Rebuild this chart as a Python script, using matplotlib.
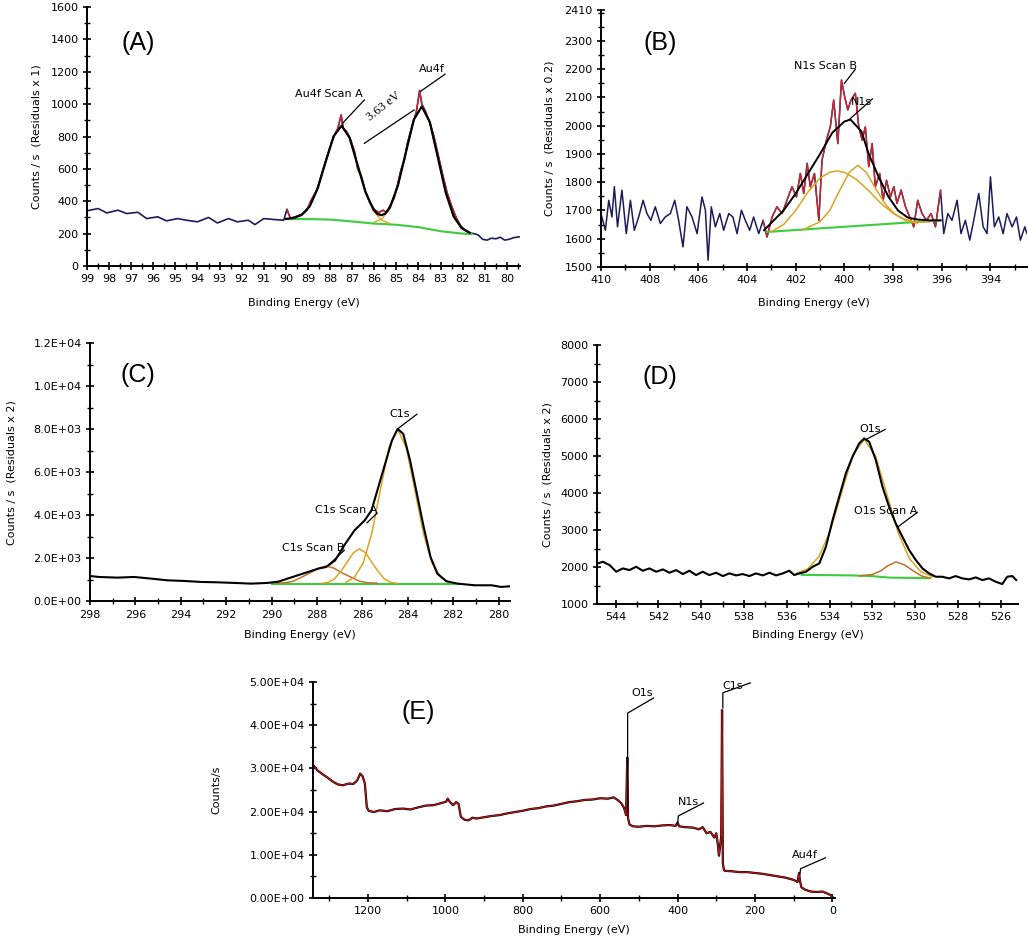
import numpy as np
import matplotlib
matplotlib.use("Agg")
import matplotlib.pyplot as plt
from matplotlib.ticker import MultipleLocator, FixedLocator, FormatStrFormatter

plt.rcParams['font.family'] = ['DejaVu Sans']

NAVY = '#1c1c5c'
RED = '#c8282d'
ORANGE = '#d9a520'
BROWN = '#c0702a'
GREEN = '#3ccc3c'

# ---------------- (A) Au4f ----------------
a_be = [99.0, 98.5, 98.1, 97.6, 97.2, 96.7, 96.3, 95.8, 95.4, 94.9, 94.5, 94.0, 93.5, 93.1,
        92.6, 92.2, 91.7, 91.4, 91.0, 90.5, 90.1, 89.95, 89.8, 89.55, 89.3, 89.05, 88.86,
        88.6, 88.4, 88.2, 88.0, 87.8, 87.65, 87.5, 87.4, 87.25, 87.1, 86.9, 86.75, 86.6,
        86.4, 86.2, 86.0, 85.8, 85.6, 85.45, 85.3, 85.1, 84.95, 84.8, 84.65, 84.5, 84.3,
        84.1, 83.95, 83.85, 83.7, 83.5, 83.3, 83.1, 82.9, 82.7, 82.5, 82.3, 82.1, 81.9,
        81.7, 81.5, 81.3, 81.1, 80.9, 80.7, 80.5, 80.3, 80.1, 79.9, 79.7, 79.45]
a_cnt = [341, 355, 328, 345, 324, 332, 293, 304, 279, 293, 283, 273, 300, 266,
         293, 273, 283, 256, 293, 287, 283, 350, 295, 305, 318, 345, 405,
         470, 560, 650, 735, 810, 850, 933, 850, 830, 790, 710, 600, 560,
         460, 390, 350, 330, 345, 330, 370, 420, 500, 590, 650, 760, 860,
         950, 1084, 1000, 960, 890, 800, 680, 560, 450, 370, 300, 250, 222,
         205, 200, 192, 165, 160, 172, 168, 178, 160, 165, 175, 180]
a_env_be = [90.0, 89.64, 89.28, 88.92, 88.56, 88.2, 87.84, 87.48, 87.12, 86.76, 86.4, 86.04,
            85.86, 85.68, 85.5, 85.29, 84.93, 84.57, 84.21, 83.85, 83.49, 83.13, 82.77,
            82.41, 82.05, 81.69]
a_env = [291, 297, 316, 369, 480, 644, 802, 867, 793, 626, 458, 349,
         322, 314, 324, 362, 498, 702, 905, 986, 890, 674, 455,
         306, 234, 206]
a_c1_be = [86.01, 85.65, 85.29, 84.93, 84.57, 84.21, 83.85, 83.49, 83.13, 82.77, 82.41, 82.05, 81.69]
a_c1 = [270, 291, 357, 497, 702, 905, 986, 890, 674, 455, 306, 234, 206]
a_c2_be = [89.64, 89.28, 88.92, 88.56, 88.2, 87.84, 87.48, 87.12, 86.76, 86.4, 86.04, 85.68, 85.32]
a_c2 = [297, 316, 369, 480, 644, 802, 867, 793, 626, 457, 342, 284, 263]
a_bg_be = [90.0, 89.0, 88.0, 87.0, 86.0, 85.0, 84.0, 83.0, 82.0, 81.6]
a_bg = [290, 290, 287, 275, 262, 255, 240, 215, 200, 198]

# ---------------- (B) N1s ----------------
b_be = [410.0, 409.82, 409.68, 409.55, 409.45, 409.32, 409.14, 408.96, 408.79, 408.63, 408.45,
        408.27, 408.11, 407.95, 407.77, 407.56, 407.36, 407.15, 406.97, 406.81, 406.63, 406.47,
        406.26, 406.05, 405.85, 405.71, 405.6, 405.47, 405.3, 405.12, 404.96, 404.75, 404.58,
        404.41, 404.23, 404.07, 403.89, 403.73, 403.52, 403.34, 403.18, 402.97, 402.77, 402.56,
        402.36, 402.15, 401.97, 401.81, 401.67, 401.53, 401.4, 401.23, 401.05, 400.92, 400.74,
        400.58, 400.44, 400.27, 400.12, 399.99, 399.86, 399.73, 399.55, 399.41, 399.27, 399.14,
        399.0, 398.86, 398.73, 398.55, 398.41, 398.27, 398.11, 397.97, 397.84, 397.67, 397.49,
        397.32, 397.15, 396.99, 396.81, 396.63, 396.44, 396.26, 396.05, 395.92, 395.75, 395.58,
        395.37, 395.21, 395.03, 394.85, 394.66, 394.48, 394.3, 394.14, 394.0, 393.84, 393.66,
        393.48, 393.32, 393.11, 392.93, 392.77, 392.59, 392.5]
b_cnt = [1689, 1630, 1736, 1677, 1784, 1642, 1772, 1618, 1736, 1630, 1677,
         1736, 1689, 1665, 1713, 1654, 1677, 1689, 1736, 1665, 1571, 1713,
         1677, 1618, 1748, 1701, 1524, 1713, 1642, 1689, 1630, 1689, 1677,
         1618, 1701, 1665, 1630, 1677, 1618, 1665, 1606, 1677, 1713, 1689,
         1736, 1784, 1748, 1831, 1760, 1867, 1784, 1831, 1665, 1878, 1949,
         1996, 2091, 1937, 2162, 2103, 2056, 2091, 2115, 1996, 1949, 1996,
         1855, 1937, 1784, 1831, 1736, 1807, 1748, 1784, 1725, 1772, 1713,
         1677, 1642, 1736, 1689, 1665, 1689, 1642, 1772, 1618, 1689, 1665,
         1736, 1618, 1665, 1595, 1677, 1760, 1642, 1618, 1819, 1642, 1677,
         1618, 1689, 1642, 1677, 1595, 1642, 1618]
b_env_be = [403.3, 402.5, 402.0, 401.5, 401.0, 400.5, 400.0, 399.75, 399.3, 399.0, 398.6,
            398.2, 397.8, 397.4, 397.0, 396.5, 396.05]
b_env = [1630, 1700, 1760, 1830, 1900, 1975, 2015, 2022, 1980, 1900, 1820,
         1750, 1700, 1675, 1668, 1665, 1665]
b_c1_be = [403.0, 402.5, 402.0, 401.5, 401.0, 400.6, 400.3, 400.0, 399.5, 399.0, 398.5,
           398.0, 397.5, 397.0, 396.5]
b_c1 = [1625, 1650, 1700, 1765, 1815, 1835, 1840, 1835, 1810, 1770, 1725,
        1690, 1668, 1658, 1660]
b_c2_be = [401.7, 401.5, 401.0, 400.6, 400.2, 399.8, 399.45, 399.1, 398.7, 398.3, 397.9, 397.5, 397.0]
b_c2 = [1632, 1640, 1660, 1700, 1770, 1835, 1860, 1835, 1775, 1720, 1685, 1665, 1655]
b_bg_be = [403.18, 396.05]
b_bg = [1624, 1665]

# ---------------- (C) C1s ----------------
c_be = [298.0, 297.6, 296.8, 296.05, 295.3, 294.6, 293.85, 293.1, 292.4, 291.6, 290.9, 290.2,
        289.7, 289.3, 288.85, 288.4, 287.95, 287.6, 287.2, 286.8, 286.35, 285.9, 285.6, 285.3,
        285.0, 284.7, 284.45, 284.2, 283.9, 283.6, 283.3, 283.0, 282.7, 282.3, 281.8, 281.05,
        280.3, 279.9, 279.5]
c_cnt = [1176, 1130, 1099, 1130, 1053, 975, 944, 898, 882, 851, 820, 851,
         913, 1053, 1207, 1362, 1517, 1594, 1904, 2600, 3297, 3762, 4226, 5310,
         6393, 7477, 8019, 7786, 6548, 5000, 3452, 2059, 1285, 929, 820, 743,
         743, 666, 697]
c_c1_be = [286.73, 286.35, 285.97, 285.59, 285.21, 284.83, 284.45, 284.07, 283.69, 283.31,
           282.93, 282.55, 282.17]
c_c1 = [880, 1116, 1774, 3140, 5170, 7154, 8000, 7154, 5170, 3140, 1774, 1116, 880]
c_c2_be = [287.78, 287.5, 287.23, 286.95, 286.68, 286.4, 286.13, 285.86, 285.58, 285.31,
           285.03, 284.76, 284.48]
c_c2 = [838, 880, 1039, 1390, 1803, 2250, 2440, 2250, 1803, 1390, 1039, 880, 838]
c_c3_be = [289.8, 289.4, 289.05, 288.68, 288.3, 287.93, 287.6, 287.25, 286.9, 286.5, 286.12,
           285.75, 285.35]
c_c3 = [838, 860, 930, 1120, 1320, 1540, 1640, 1540, 1320, 1120, 930, 860, 838]
c_bg_be = [290.0, 281.7]
c_bg = [820, 820]

# ---------------- (D) O1s ----------------
d_be = [544.82, 544.6, 544.28, 543.97, 543.66, 543.35, 543.04, 542.73, 542.42, 542.1, 541.79,
        541.48, 541.17, 540.86, 540.55, 540.24, 539.93, 539.62, 539.3, 538.99, 538.68, 538.37,
        538.06, 537.75, 537.44, 537.12, 536.81, 536.5, 536.19, 535.88, 535.65, 535.41, 535.1,
        534.79, 534.48, 534.17, 533.86, 533.55, 533.24, 532.93, 532.62, 532.38, 532.15, 531.84,
        531.53, 531.22, 530.91, 530.6, 530.28, 529.97, 529.66, 529.35, 529.04, 528.73, 528.42,
        528.11, 527.8, 527.48, 527.17, 526.86, 526.55, 526.24, 525.93, 525.7, 525.46, 525.28]
d_cnt = [2099, 2144, 2054, 1874, 1964, 1919, 2009, 1901, 1964, 1874, 1937,
         1847, 1919, 1811, 1901, 1784, 1874, 1784, 1847, 1757, 1829, 1775,
         1811, 1757, 1829, 1775, 1847, 1775, 1829, 1901, 1784, 1829, 1874,
         2009, 2099, 2550, 3270, 3901, 4532, 4982, 5342, 5477, 5387, 4892,
         4171, 3631, 3180, 2820, 2459, 2189, 1964, 1829, 1739, 1739, 1694,
         1757, 1694, 1667, 1721, 1649, 1694, 1604, 1541, 1739, 1757, 1649]
d_c1_be = [535.56, 535.03, 534.5, 533.97, 533.44, 532.91, 532.38, 531.85, 531.32, 530.79,
           530.26, 529.73, 529.2]
d_c1 = [1830, 1950, 2280, 2975, 4010, 5030, 5450, 5000, 3960, 2920, 2220, 1870, 1740]
d_c2_be = [532.6, 532.0, 531.6, 531.3, 530.9, 530.5, 530.1, 529.7, 529.3]
d_c2 = [1760, 1800, 1900, 2030, 2140, 2060, 1900, 1760, 1700]
d_bg_be = [535.3, 533.0, 532.0, 531.2, 529.3]
d_bg = [1790, 1775, 1755, 1715, 1700]

# ---------------- (E) survey ----------------
e_be = [1342, 1330, 1318, 1305, 1290, 1278, 1265, 1250, 1238, 1228, 1220, 1214, 1208, 1203,
        1198, 1185, 1170, 1150, 1130, 1110, 1090, 1070, 1050, 1030, 1010, 998, 994, 988, 980,
        972, 966, 960, 950, 940, 930, 920, 900, 880, 860, 840, 820, 800, 780, 760, 740, 720,
        700, 680, 660, 640, 620, 600, 580, 565, 555, 545, 538, 533, 530, 528, 524, 515, 500,
        480, 460, 440, 420, 405, 400, 396, 380, 360, 345, 335, 325, 315, 305, 300, 296, 293,
        290, 287, 285, 283, 280, 278, 260, 240, 220, 200, 180, 160, 140, 120, 100, 90, 86, 84,
        80, 70, 55, 40, 25, 12, 5, 0]
e_cnt = [30800, 29500, 28700, 27900, 26900, 26300, 26100, 26500, 26400, 27200, 28800, 28200,
         26500, 21000, 20200, 19900, 20300, 20100, 20600, 20700, 20500, 21000, 21400, 21500,
         22000, 22300, 23000, 22200, 21500, 22200, 21800, 18800, 18100, 18000, 18600, 18400,
         18700, 19000, 19200, 19600, 19900, 20200, 20600, 20800, 21200, 21400, 21800, 22200,
         22400, 22700, 22800, 23100, 23000, 23300, 22700, 21900, 20800, 19200, 32500, 18500,
         17000, 16600, 16500, 16700, 16600, 16800, 16900, 16700, 17500, 16600, 16400, 16300,
         15900, 16400, 15000, 15300, 14000, 15000, 12500, 9800, 12000, 14500, 43500, 8000,
         6500, 6300, 6200, 6000, 6000, 5800, 5600, 5300, 5000, 4700, 4200, 3700, 5800, 4200,
         2500, 1900, 1500, 1400, 1500, 1000, 700, 300]

FS = 8


def style(ax, xlim, ylim, xmaj, xmin, ymaj, ymin, yfmt=None):
    ax.set_xlim(xlim)
    ax.set_ylim(ylim)
    for s in ['top', 'right']:
        ax.spines[s].set_visible(False)
    for s in ['left', 'bottom']:
        ax.spines[s].set_linewidth(1.4)
    ax.xaxis.set_major_locator(MultipleLocator(xmaj))
    ax.xaxis.set_minor_locator(MultipleLocator(xmin))
    if isinstance(ymaj, list):
        ax.yaxis.set_major_locator(FixedLocator(ymaj))
    else:
        ax.yaxis.set_major_locator(MultipleLocator(ymaj))
    ax.yaxis.set_minor_locator(MultipleLocator(ymin))
    if yfmt:
        ax.yaxis.set_major_formatter(FormatStrFormatter(yfmt))
    ax.tick_params(which='major', direction='inout', length=6, width=1.2, labelsize=FS, pad=3)
    ax.tick_params(which='minor', direction='inout', length=4, width=1.0)


def labels(ax, ylab, ycoord, xcoord, tag, tagpos):
    ax.set_ylabel(ylab, fontsize=FS)
    ax.yaxis.set_label_coords(ycoord, 0.5)
    ax.set_xlabel('Binding Energy (eV)', fontsize=FS)
    ax.xaxis.set_label_coords(0.5, xcoord)
    ax.text(tagpos[0], tagpos[1], tag, transform=ax.transAxes, fontsize=18,
            family='Liberation Sans', ha='center', va='center')


def leader(ax, pts):
    xs = [p[0] for p in pts]
    ys = [p[1] for p in pts]
    ax.plot(xs, ys, color='k', lw=0.9, zorder=6)


fig = plt.figure(figsize=(10.28, 9.38), dpi=100)

# ---- A
axA = fig.add_axes([0.0846, 0.7164, 0.4214, 0.2761])
axA.plot(a_be, a_cnt, color=NAVY, lw=1.2)
a_in = [(e, c) for e, c in zip(a_be, a_cnt) if 81.7 <= e <= 90.0]
axA.plot([p[0] for p in a_in], [p[1] for p in a_in], color=RED, lw=1.0)
axA.plot(a_bg_be, a_bg, color=GREEN, lw=1.5)
axA.plot(a_c1_be, a_c1, color=ORANGE, lw=1.0)
axA.plot(a_c2_be, a_c2, color=ORANGE, lw=1.0)
axA.plot(a_env_be, a_env, color='k', lw=1.6)
style(axA, (99, 79.4), (0, 1600), 1, 0.5, 200, 100)
labels(axA, 'Counts / s  (Residuals x 1)', -0.106, -0.124, '(A)', (0.118, 0.861))
axA.text(86.5, 1030, 'Au4f Scan A', fontsize=FS, ha='right', va='bottom')
leader(axA, [(87.45, 880), (86.45, 1026)])
axA.text(82.8, 1185, 'Au4f', fontsize=FS, ha='right', va='bottom')
leader(axA, [(83.9, 1080), (82.8, 1185)])
axA.text(85.55, 985, '3.63 eV', fontsize=9, family='Liberation Serif', rotation=38,
         ha='center', va='center')
leader(axA, [(86.45, 758), (84.2, 964)])

# ---- B
axB = fig.add_axes([0.5846, 0.7154, 0.4144, 0.274])
axB.plot(b_be, b_cnt, color=NAVY, lw=1.1)
b_in = [(e, c) for e, c in zip(b_be, b_cnt) if 396.0 <= e <= 403.4]
axB.plot([p[0] for p in b_in], [p[1] for p in b_in], color=RED, lw=1.0)
axB.plot(b_bg_be, b_bg, color=GREEN, lw=1.5)
axB.plot(b_c1_be, b_c1, color=ORANGE, lw=1.1)
axB.plot(b_c2_be, b_c2, color=ORANGE, lw=1.1)
axB.plot(b_env_be, b_env, color='k', lw=1.4)
style(axB, (410, 392.5), (1500, 2410), 2, 1, list(range(1500, 2400, 100)) + [2410], 50)
labels(axB, 'Counts / s  (Residuals x 0.2)', -0.110, -0.12, '(B)', (0.138, 0.872))
axB.text(399.5, 2195, 'N1s Scan B', fontsize=FS, ha='right', va='bottom')
leader(axB, [(399.55, 2200), (400.0, 2150)])
axB.text(398.85, 2065, 'N1s', fontsize=FS, ha='right', va='bottom')
leader(axB, [(399.8, 2022), (398.85, 2095)])

# ---- C
axC = fig.add_axes([0.0875, 0.359, 0.4086, 0.275])
axC.plot(c_bg_be, c_bg, color=GREEN, lw=1.5)
axC.plot(c_c3_be, c_c3, color=BROWN, lw=1.1)
axC.plot(c_c2_be, c_c2, color=ORANGE, lw=1.1)
axC.plot(c_c1_be, c_c1, color=ORANGE, lw=1.1)
axC.plot(c_be, c_cnt, color='k', lw=1.5)
style(axC, (298, 279.5), (0, 12000), 2, 1, 2000, 1000, '%.1E')
labels(axC, 'Counts / s  (Residuals x 2)', -0.176, -0.112, '(C)', (0.114, 0.876))
axC.text(284.8, 8500, 'C1s', fontsize=FS, ha='left', va='bottom')
leader(axC, [(284.45, 8019), (283.6, 8700)])
axC.text(285.35, 4000, 'C1s Scan A', fontsize=FS, ha='right', va='bottom')
leader(axC, [(285.35, 4100), (285.8, 3650)])
axC.text(286.8, 2250, 'C1s Scan B', fontsize=FS, ha='right', va='bottom')
leader(axC, [(286.8, 2370), (287.5, 1680)])

# ---- D
axD = fig.add_axes([0.5807, 0.356, 0.4095, 0.2761])
axD.plot(d_bg_be, d_bg, color=GREEN, lw=1.5)
axD.plot(d_c2_be, d_c2, color=BROWN, lw=1.1)
axD.plot(d_c1_be, d_c1, color=ORANGE, lw=1.1)
axD.plot(d_be, d_cnt, color='k', lw=1.5)
style(axD, (544.87, 525.2), (1000, 8000), 2, 1, 1000, 500)
labels(axD, 'Counts / s  (Residuals x 2)', -0.105, -0.10, '(D)', (0.15, 0.876))
axD.text(532.6, 5600, 'O1s', fontsize=FS, ha='left', va='bottom')
leader(axD, [(532.3, 5450), (531.4, 5720)])
axD.text(529.9, 3380, 'O1s Scan A', fontsize=FS, ha='right', va='bottom')
leader(axD, [(529.9, 3480), (530.8, 3090)])

# ---- E
axE = fig.add_axes([0.3045, 0.0426, 0.5078, 0.2303])
axE.plot(e_be, e_cnt, color='k', lw=1.6)
axE.plot(e_be, e_cnt, color='#b81414', lw=0.9)
style(axE, (1342, -7), (0, 50000), 200, 100, 10000, 5000, '%.2E')
labels(axE, 'Counts/s', -0.176, -0.125, '(E)', (0.201, 0.861))
leader(axE, [(529, 20000), (529, 42800), (462, 46300)])
axE.text(492, 46300, 'O1s', fontsize=FS, ha='center', va='bottom')
leader(axE, [(283, 44000), (283, 47500), (212, 49800)])
axE.text(258, 48000, 'C1s', fontsize=FS, ha='center', va='bottom')
leader(axE, [(400, 17000), (398, 19000), (333, 22000)])
axE.text(372, 21000, 'N1s', fontsize=FS, ha='center', va='bottom')
leader(axE, [(84, 5500), (82, 6800), (18, 9300)])
axE.text(72, 8700, 'Au4f', fontsize=FS, ha='center', va='bottom')

fig.savefig('out.png', dpi=100)
